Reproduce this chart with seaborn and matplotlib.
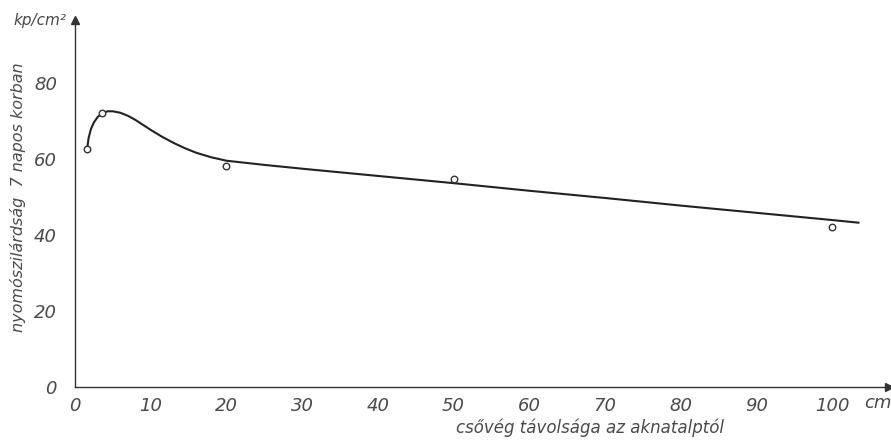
import seaborn as sns
import matplotlib.pyplot as plt

# measured points (distance of pipe end, strength after 7 days)
meas_x = [1.6, 3.6, 20, 50, 100]
meas_y = [62.6, 72.1, 58.2, 54.7, 42.1]

# hand-drawn curve
curve_x = [1.6, 1.8, 2.1, 2.5, 3.0, 3.6, 4.3, 5.0, 6.0, 7.0, 8.0, 9.0, 10.0, 11.5,
           13.0, 14.5, 16.0, 18.0, 20.0, 25.0, 30.0, 40.0, 50.0, 60.0, 70.0, 80.0,
           90.0, 100.0, 103.5]
curve_y = [62.6, 65.5, 67.8, 69.6, 71.0, 72.0, 72.5, 72.5, 72.1, 71.3, 70.2, 68.9,
           67.6, 65.8, 64.2, 62.8, 61.6, 60.4, 59.5, 58.4, 57.4, 55.5, 53.6, 51.6,
           49.7, 47.7, 45.8, 43.9, 43.2]

x_ticks = [0, 10, 20, 30, 40, 50, 60, 70, 80, 90, 100]
y_ticks = [0, 20, 40, 60, 80]

sns.set_style("white")
plt.rcParams['font.family'] = ['DejaVu Sans']
txt = '#4a4a4a'

fig = plt.figure(figsize=(8.91, 4.41), dpi=100)
ax = fig.add_axes([75 / 891, 54 / 441, (889 - 75) / 891, (387 - 20) / 441])

sns.lineplot(x=curve_x, y=curve_y, color='#222222', linewidth=1.5, sort=False, ax=ax)
sns.scatterplot(x=meas_x, y=meas_y, marker='o', s=22, facecolor='white',
                edgecolor='#333333', linewidth=1.0, zorder=5, ax=ax)

ax.set_xlim(0, 107.5)
ax.set_ylim(0, 96.5)
ax.spines['top'].set_visible(False)
ax.spines['right'].set_visible(False)
for s in ['left', 'bottom']:
    ax.spines[s].set_color('#333333')
    ax.spines[s].set_linewidth(1.0)

# arrow heads on the axes
ax.plot(1, 0, '>', color='#333333', ms=6, transform=ax.transAxes, clip_on=False)
ax.plot(0, 1, '^', color='#333333', ms=6, transform=ax.transAxes, clip_on=False)

ax.set_xticks(x_ticks)
ax.set_xticklabels([str(v) for v in x_ticks])
ax.set_yticks(y_ticks)
ax.set_yticklabels([str(v) for v in y_ticks])
ax.tick_params(axis='x', direction='in', length=5, width=0.8, color='#333333',
               labelsize=13, labelcolor=txt, pad=7)
ax.tick_params(axis='y', direction='out', length=7, width=0.8, color='#333333',
               labelsize=13, labelcolor=txt, pad=6)
ax.yaxis.get_major_ticks()[0].tick1line.set_visible(False)
for lab in ax.get_xticklabels() + ax.get_yticklabels():
    lab.set_fontstyle('italic')
    lab.set_fontweight('light')

ax.text(106.0, -4.3, 'cm', fontsize=13, style='italic', color=txt,
        ha='center', va='center', clip_on=False)
fig.text(66 / 891, 1 - 20 / 441, 'kp/cm²', fontsize=11, style='italic', color=txt,
         ha='right', va='center')

fig.text(590 / 891, 1 - 428 / 441, 'csővég távolsága az aknatalptól', fontsize=12,
         style='italic', color=txt, ha='center', va='center')
fig.text(18 / 891, 1 - 197 / 441, 'nyomószilárdság  7 napos korban', fontsize=11.5,
         style='italic', color=txt, ha='center', va='center', rotation=90)

fig.savefig('out.png', dpi=100)
